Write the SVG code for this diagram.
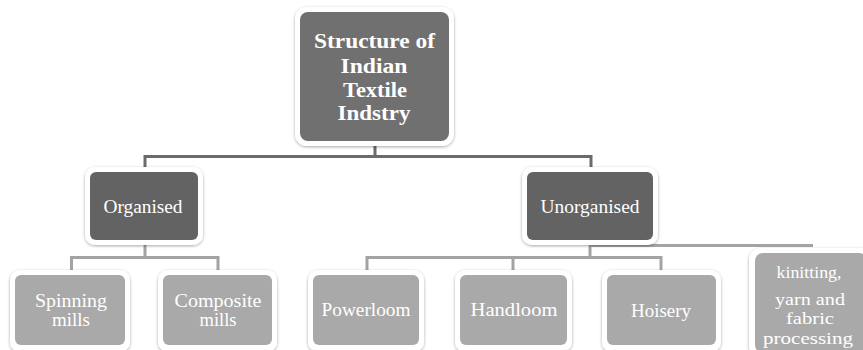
<svg xmlns="http://www.w3.org/2000/svg" width="863" height="350" viewBox="0 0 863 350">
  <defs>
    <filter id="sh" x="-20%" y="-20%" width="140%" height="140%">
      <feDropShadow dx="0" dy="1" stdDeviation="1.6" flood-color="#000" flood-opacity="0.35"/>
    </filter>
    <style>
      .frame { fill: #ffffff; filter: url(#sh); }
      .top { fill: #707070; }
      .mid { fill: #636363; }
      .low { fill: #a9a9a9; }
      .t { font-family: "Liberation Serif", "Times New Roman", serif; fill: #ffffff; text-anchor: middle; font-size: 18px; }
      .tb { font-family: "Liberation Serif", "Times New Roman", serif; fill: #ffffff; text-anchor: middle; font-size: 21px; font-weight: bold; }
      .t.ts { font-size: 16.5px; }
      .c1 { stroke: #6b6b6b; stroke-width: 3; fill: none; }
      .c2 { stroke: #a3a3a3; stroke-width: 3; fill: none; }
    </style>
  </defs>
  <rect width="863" height="350" fill="#ffffff"/>

  <g id="connectors">
    <path class="c1" d="M375,146 V156.5 M143.5,156.5 H592.5 M145,155 V168 M591,155 V168"/>
    <path class="c2" d="M145,244 V258 M70,257.5 H219.5 M71.5,256 V271 M218,256 V271"/>
    <path class="c2" d="M590,244 V258 M365.5,257.5 H662.5 M367,256 V271 M513,256 V271 M661,256 V271"/>
    <path class="c2" d="M590,245.5 H813"/>
  </g>

  <g id="root">
    <rect class="frame" x="295" y="7" width="159" height="139" rx="12"/>
    <rect class="top" x="300" y="12" width="149" height="129" rx="8"/>
    <text class="tb" x="374.5" y="48" textLength="121" lengthAdjust="spacingAndGlyphs">Structure of</text>
    <text class="tb" x="374" y="73" textLength="67" lengthAdjust="spacingAndGlyphs">Indian</text>
    <text class="tb" x="375" y="97" textLength="64" lengthAdjust="spacingAndGlyphs">Textile</text>
    <text class="tb" x="374" y="120" textLength="73" lengthAdjust="spacingAndGlyphs">Indstry</text>
  </g>

  <g id="organised">
    <rect class="frame" x="85" y="167" width="118" height="78" rx="10"/>
    <rect class="mid" x="90" y="172" width="108" height="68" rx="6"/>
    <text class="t" x="143" y="213" textLength="79" lengthAdjust="spacingAndGlyphs">Organised</text>
  </g>

  <g id="unorganised">
    <rect class="frame" x="522" y="167" width="136" height="78" rx="10"/>
    <rect class="mid" x="527" y="172" width="126" height="68" rx="6"/>
    <text class="t" x="590" y="213" textLength="99" lengthAdjust="spacingAndGlyphs">Unorganised</text>
  </g>

  <g id="spinning">
    <rect class="frame" x="10" y="270" width="120" height="82" rx="10"/>
    <rect class="low" x="15" y="275" width="110" height="70" rx="6"/>
    <text class="t" x="71" y="307" textLength="72" lengthAdjust="spacingAndGlyphs">Spinning</text>
    <text class="t" x="71" y="326" textLength="38" lengthAdjust="spacingAndGlyphs">mills</text>
  </g>

  <g id="composite">
    <rect class="frame" x="158" y="270" width="119" height="82" rx="10"/>
    <rect class="low" x="163" y="275" width="109" height="70" rx="6"/>
    <text class="t" x="218" y="307" textLength="87" lengthAdjust="spacingAndGlyphs">Composite</text>
    <text class="t" x="218" y="326" textLength="37" lengthAdjust="spacingAndGlyphs">mills</text>
  </g>

  <g id="powerloom">
    <rect class="frame" x="308" y="270" width="116" height="82" rx="10"/>
    <rect class="low" x="313" y="275" width="106" height="70" rx="6"/>
    <text class="t" x="366" y="316" textLength="89" lengthAdjust="spacingAndGlyphs">Powerloom</text>
  </g>

  <g id="handloom">
    <rect class="frame" x="455" y="270" width="117" height="82" rx="10"/>
    <rect class="low" x="460" y="275" width="107" height="70" rx="6"/>
    <text class="t" x="514" y="316" textLength="87" lengthAdjust="spacingAndGlyphs">Handloom</text>
  </g>

  <g id="hoisery">
    <rect class="frame" x="602" y="270" width="119" height="82" rx="10"/>
    <rect class="low" x="607" y="275" width="109" height="70" rx="6"/>
    <text class="t" x="661" y="317" textLength="60" lengthAdjust="spacingAndGlyphs">Hoisery</text>
  </g>

  <g id="knitting">
    <rect class="frame" x="749" y="248" width="125" height="110" rx="12"/>
    <rect class="low" x="755" y="253" width="112" height="100" rx="8"/>
    <text class="t ts" x="809" y="278" textLength="65" lengthAdjust="spacingAndGlyphs">kinitting,</text>
    <text class="t ts" x="810" y="305" textLength="70" lengthAdjust="spacingAndGlyphs">yarn and</text>
    <text class="t ts" x="810" y="324" textLength="48" lengthAdjust="spacingAndGlyphs">fabric</text>
    <text class="t ts" x="808" y="344" textLength="90" lengthAdjust="spacingAndGlyphs">processing</text>
  </g>
</svg>
